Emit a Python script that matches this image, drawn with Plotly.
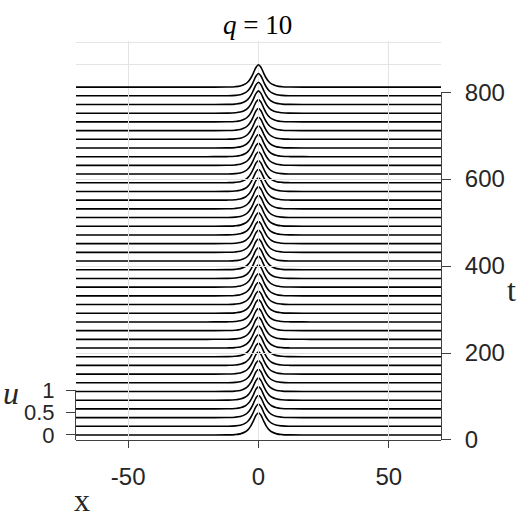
import plotly.graph_objects as go

x_profile = [-70, -20, -12, -9, -7, -5, -4, -3, -2, -1, 0,
             1, 2, 3, 4, 5, 7, 9, 12, 20, 70]
u_profile = [0.0, 0.0, 0.002, 0.009, 0.025, 0.072, 0.12, 0.198, 0.31, 0.438, 0.5,
             0.438, 0.31, 0.198, 0.12, 0.072, 0.025, 0.009, 0.002, 0.0, 0.0]

# times of the plotted rows
t_rows = [0, 20, 40, 60, 80, 100, 120, 140, 160, 180, 200,
          220, 240, 260, 280, 300, 320, 340, 360, 380, 400,
          420, 440, 460, 480, 500, 520, 540, 560, 580, 600,
          620, 640, 660, 680, 700, 720, 740, 760, 780, 800]

x_ticks = [-50, 0, 50]
x_ticktext = ["-50", "0", "50"]
t_ticks = [0, 200, 400, 600, 800]
u_ticks = [0, 0.5, 1]
u_ticktext = ["0", "0.5", "1"]

# fake 3-D view: each row is lifted by its time, u is stretched into t units
U_SCALE = 102.5
T_SHIFT = 11.5
y_lo = -T_SHIFT
y_hi = t_rows[-1] + U_SCALE + 3.5
span = y_hi - y_lo

AX = "#404040"
GRID = "#e4e4e4"
TICKFONT = dict(family="Liberation Sans, Arial", size=24, color="#262626")
SERIF = "Liberation Serif, DejaVu Serif, serif"

fig = go.Figure()
for t in t_rows:
    fig.add_trace(go.Scatter(
        x=x_profile,
        y=[t + U_SCALE * u for u in u_profile],
        mode="lines",
        line=dict(color="black", width=1.6, shape="spline"),
        showlegend=False,
        hoverinfo="skip",
    ))

# empty traces so the u and t axes get drawn
fig.add_trace(go.Scatter(x=[None], y=[None], yaxis="y2", showlegend=False, hoverinfo="skip"))
fig.add_trace(go.Scatter(x=[None], y=[None], yaxis="y3", showlegend=False, hoverinfo="skip"))

fig.update_layout(
    width=523,
    height=523,
    margin=dict(l=76, r=82, t=41, b=83),
    paper_bgcolor="white",
    plot_bgcolor="rgba(0,0,0,0)",
    xaxis=dict(
        range=[-70, 70],
        tickvals=x_ticks,
        ticktext=x_ticktext,
        ticks="outside",
        ticklen=7,
        tickcolor=AX,
        showline=True,
        linecolor=AX,
        showgrid=True,
        gridcolor=GRID,
        zeroline=False,
        tickfont=TICKFONT,
        ticklabelstandoff=8,
    ),
    yaxis=dict(
        range=[y_lo, y_hi],
        tickvals=[t_rows[-1] + U_SCALE * 0.5, t_rows[-1] + U_SCALE * 1.0],
        showticklabels=False,
        ticks="",
        showgrid=True,
        gridcolor=GRID,
        zeroline=False,
        showline=False,
    ),
    yaxis2=dict(
        domain=[0, (U_SCALE + T_SHIFT) / span],
        range=[y_lo / U_SCALE, 1],
        anchor="x",
        side="left",
        tickvals=u_ticks,
        ticktext=u_ticktext,
        ticks="outside",
        ticklen=9,
        tickcolor=AX,
        showline=True,
        linecolor=AX,
        showgrid=False,
        zeroline=False,
        tickfont=dict(TICKFONT, size=22),
        ticklabelstandoff=7,
    ),
    yaxis3=dict(
        domain=[0, t_rows[-1] / span],
        range=[0, t_rows[-1]],
        anchor="x",
        side="right",
        tickvals=t_ticks,
        ticks="outside",
        ticklen=9,
        tickcolor=AX,
        showline=True,
        linecolor=AX,
        showgrid=True,
        gridcolor=GRID,
        zeroline=False,
        tickfont=TICKFONT,
        ticklabelstandoff=9,
    ),
    annotations=[
        dict(text="<i>q</i> = 10", x=0.4986, y=1.040, xref="paper", yref="paper",
             xanchor="center", yanchor="middle", showarrow=False,
             font=dict(family=SERIF, size=27, color="black")),
        dict(text="x", x=0.0164, y=-0.150, xref="paper", yref="paper",
             xanchor="center", yanchor="middle", showarrow=False,
             font=dict(family=SERIF, size=32, color="#262626")),
        dict(text="t", x=1.1918, y=0.376, xref="paper", yref="paper",
             xanchor="center", yanchor="middle", showarrow=False,
             font=dict(family=SERIF, size=32, color="#262626")),
        dict(text="<i>u</i>", x=-0.178, y=0.118, xref="paper", yref="paper",
             xanchor="center", yanchor="middle", showarrow=False,
             font=dict(family=SERIF, size=32, color="#262626")),
    ],
)

# drop the browser's default 8px page margin so the figure sits at 0,0
fig.write_html("out.html", config={"displayModeBar": False},
               post_script="document.body.style.margin='0px';")
